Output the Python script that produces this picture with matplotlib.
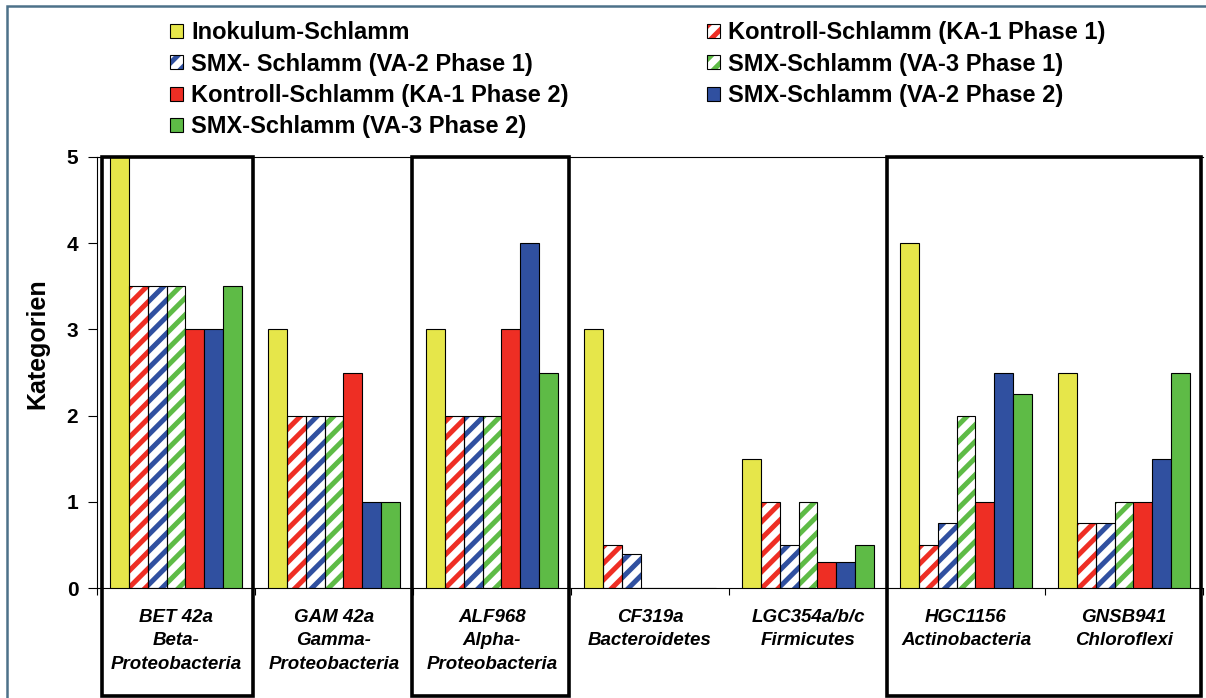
import numpy as np
import matplotlib
matplotlib.use("Agg")
import matplotlib.pyplot as plt
from matplotlib.patches import Patch, Rectangle

plt.rcParams["font.family"] = ["Liberation Sans", "DejaVu Sans"]
plt.rcParams["font.weight"] = "bold"
plt.rcParams["hatch.linewidth"] = 3.6

W, H = 1206, 698

# Gensonden (x-Achse)
SONDEN = [
    "BET 42a\nBeta-\nProteobacteria",
    "GAM 42a\nGamma-\nProteobacteria",
    "ALF968\nAlpha-\nProteobacteria",
    "CF319a\nBacteroidetes",
    "LGC354a/b/c\nFirmicutes",
    "HGC1156\nActinobacteria",
    "GNSB941\nChloroflexi",
]

SERIEN = [
    "Inokulum-Schlamm",
    "Kontroll-Schlamm (KA-1 Phase 1)",
    "SMX- Schlamm (VA-2 Phase 1)",
    "SMX-Schlamm (VA-3 Phase 1)",
    "Kontroll-Schlamm (KA-1 Phase 2)",
    "SMX-Schlamm (VA-2 Phase 2)",
    "SMX-Schlamm (VA-3 Phase 2)",
]

# Kategorien je Sonde
inokulum = [5, 3, 3, 3, 1.5, 4, 2.5]
ka1_p1 = [3.5, 2, 2, 0.5, 1, 0.5, 0.75]
va2_p1 = [3.5, 2, 2, 0.4, 0.5, 0.75, 0.75]
va3_p1 = [3.5, 2, 2, 0, 1, 2, 1]
ka1_p2 = [3, 2.5, 3, 0, 0.3, 1, 1]
va2_p2 = [3, 1, 4, 0, 0.3, 2.5, 1.5]
va3_p2 = [3.5, 1, 2.5, 0, 0.5, 2.25, 2.5]
WERTE = [inokulum, ka1_p1, va2_p1, va3_p1, ka1_p2, va2_p2, va3_p2]

GELB, ROT, BLAU, GRUEN = "#e6e64a", "#ee2e24", "#3050a0", "#5ebb46"
FARBEN = [GELB, ROT, BLAU, GRUEN, ROT, BLAU, GRUEN]
SCHRAFFUR = [False, True, True, True, False, False, False]

# hervorgehobene Gruppen (x-Bereich in Datenkoordinaten)
RAHMEN = [(-0.468, 0.487), (1.494, 2.487), (4.5, 6.49)]


def legend_handle(farbe, schraffiert):
    if schraffiert:
        return (Patch(facecolor="white", edgecolor=farbe, hatch="//", lw=0),
                Patch(fill=False, edgecolor="black", lw=0.8))
    return Patch(facecolor=farbe, edgecolor="black", lw=0.8)


def main():
    fig = plt.figure(figsize=(W / 100, H / 100), dpi=100)
    ax = fig.add_axes([97 / W, 1 - 588 / H, 1106 / W, 431 / H])

    x = np.arange(len(SONDEN))
    bw = 0.119
    for i, (vals, farbe, hatch) in enumerate(zip(WERTE, FARBEN, SCHRAFFUR)):
        pos = x + (i - 3) * bw
        if hatch:
            ax.bar(pos, vals, bw, color="white", edgecolor=farbe, hatch="//",
                   linewidth=0, zorder=2)
            ax.bar(pos, vals, bw, fill=False, edgecolor="black",
                   linewidth=0.8, zorder=3)
        else:
            ax.bar(pos, vals, bw, color=farbe, edgecolor="black",
                   linewidth=0.8, zorder=3)

    ax.set_xlim(-0.5, 6.5)
    ax.set_ylim(0, 5)
    ax.set_yticks(range(6))
    ax.tick_params(axis="y", direction="out", length=6.5, width=0.8,
                   pad=7, labelsize=15)
    ax.set_xticks(x)
    ax.set_xticklabels(SONDEN, fontsize=13.5, fontstyle="italic",
                       fontweight="bold", linespacing=1.5)
    ax.tick_params(axis="x", length=0, pad=15)
    ax.set_xticks(np.arange(-0.5, 7, 1), minor=True)
    ax.tick_params(axis="x", which="minor", length=5, width=0.8)
    ax.spines["right"].set_visible(False)
    for s in ["left", "bottom", "top"]:
        ax.spines[s].set_linewidth(0.8)

    # dicke Rahmen um Gruppen, bis unter die Beschriftung
    y_unten = -108 / 86.2
    for x0, x1 in RAHMEN:
        ax.add_patch(Rectangle((x0, y_unten), x1 - x0, 5 - y_unten,
                               fill=False, edgecolor="black", lw=2.6,
                               clip_on=False, zorder=5))

    fig.text(37 / W, 1 - 344 / H, "Kategorien", rotation=90, ha="center",
             va="center", fontsize=18, fontweight="bold")

    handles = [legend_handle(f, h) for f, h in zip(FARBEN, SCHRAFFUR)]
    prop = {"size": 17, "weight": "bold"}
    opts = dict(loc="upper left", frameon=False, prop=prop, borderpad=0,
                borderaxespad=0, handlelength=0.55, handleheight=0.55,
                handletextpad=0.35, labelspacing=0.36)
    links = [0, 2, 4, 6]
    rechts = [1, 3, 5]
    fig.legend([handles[i] for i in links], [SERIEN[i] for i in links],
               bbox_to_anchor=(170 / W, 1 - 21 / H), **opts)
    fig.legend([handles[i] for i in rechts], [SERIEN[i] for i in rechts],
               bbox_to_anchor=(707 / W, 1 - 21 / H), **opts)

    # äußerer Rahmen
    fig.add_artist(Rectangle((7 / W, -0.05), 1.1, 1.05 - 6 / H,
                             transform=fig.transFigure, fill=False,
                             edgecolor="#4d7189", lw=1.8))

    fig.savefig("out.png", dpi=100)


if __name__ == "__main__":
    main()
